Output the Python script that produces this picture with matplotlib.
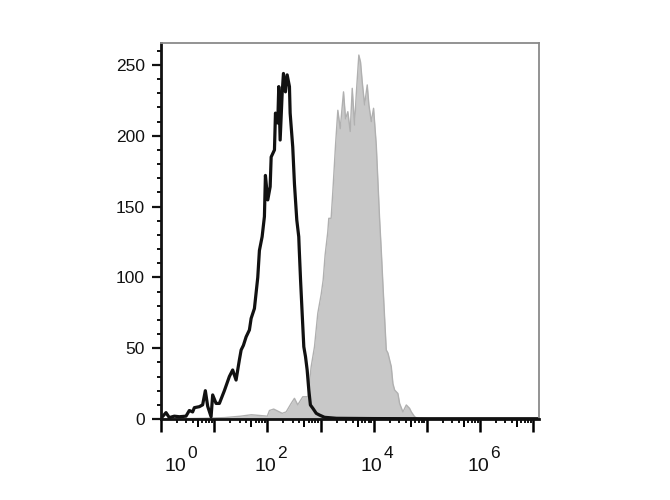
import numpy as np
import matplotlib
matplotlib.use("Agg")
import matplotlib.pyplot as plt

plt.rcParams["font.family"] = ["Liberation Sans", "DejaVu Sans"]

# x in decades (log10 of fluorescence), y = cell count
ctrl_x = [0.00, 0.094, 0.156, 0.25, 0.345, 0.47, 0.533, 0.595, 0.627, 0.721,
          0.783, 0.834, 0.878, 0.942, 0.972, 1.036, 1.098, 1.192, 1.286, 1.348,
          1.412, 1.474, 1.507, 1.55, 1.601, 1.663, 1.695, 1.757, 1.82, 1.851,
          1.902, 1.945, 1.964, 2.008, 2.053, 2.072, 2.134, 2.153, 2.196, 2.215,
          2.241, 2.279, 2.303, 2.341, 2.373, 2.416, 2.429, 2.478, 2.51, 2.554,
          2.591, 2.60, 2.625, 2.655, 2.686, 2.718, 2.749, 2.78, 2.81, 2.857,
          2.92, 2.98, 3.075, 3.3, 4.0, 5.0, 6.0, 7.11]
ctrl_y = [0.5, 4.5, 1.0, 2.0, 1.6, 2.0, 6.0, 5.0, 8.0, 8.7,
          10.0, 20.0, 9.0, 1.6, 17.0, 11.0, 11.0, 20.0, 30.0, 34.6,
          27.5, 41.7, 48.7, 52.0, 58.0, 62.9, 71.0, 78.0, 100.0, 119.0,
          128.7, 142.9, 172.0, 154.7, 164.0, 185.0, 190.0, 216.0, 209.0, 234.7,
          197.0, 230.0, 244.0, 231.0, 243.0, 234.7, 216.0, 192.0, 166.0, 140.5,
          128.7, 120.0, 98.0, 74.6, 51.0, 44.0, 34.6, 20.5, 9.9, 7.5,
          4.0, 2.8, 1.2, 0.5, 0.3, 0.2, 0.2, 0.2]

stain_x = [0.0, 0.8, 1.2, 1.5, 1.7, 2.0, 2.04, 2.12, 2.28, 2.354,
           2.448, 2.51, 2.572, 2.667, 2.761, 2.825, 2.887, 2.949, 3.013, 3.05,
           3.087, 3.137, 3.156, 3.2, 3.232, 3.283, 3.326, 3.371, 3.433, 3.471,
           3.514, 3.559, 3.597, 3.64, 3.672, 3.721, 3.753, 3.785, 3.829, 3.879,
           3.91, 3.955, 3.998, 4.049, 4.111, 4.143, 4.173, 4.205, 4.237, 4.268,
           4.331, 4.362, 4.394, 4.456, 4.488, 4.55, 4.614, 4.676, 4.708, 4.77,
           4.832, 5.5, 7.11]
stain_y = [0.0, 0.5, 1.0, 2.0, 3.0, 2.0, 6.0, 7.0, 4.0, 5.0,
           11.0, 14.6, 10.0, 15.7, 15.7, 37.0, 51.0, 74.6, 88.0, 98.0,
           115.8, 132.0, 141.7, 141.7, 160.5, 193.5, 218.0, 205.0, 231.0, 212.0,
           217.0, 203.0, 233.5, 207.6, 228.8, 257.0, 252.0, 238.0, 221.8, 235.9,
           221.8, 210.0, 219.4, 193.5, 141.7, 119.0, 95.8, 72.0, 48.7, 46.6,
           37.0, 25.0, 20.5, 18.0, 11.0, 5.0, 9.9, 7.5, 5.0, 1.6,
           0.3, 0.0, 0.0]

x_exponents = ["0", "2", "4", "6"]
x_label_pos = [0.476, 2.171, 4.168, 6.183]  # right edge of the "10"

fig = plt.figure(figsize=(6.7, 5.0), dpi=100)
ax = fig.add_axes([0.2403, 0.162, 0.5642, 0.752])

ax.fill_between(stain_x, stain_y, 0, color="#c8c8c8", linewidth=0)
ax.plot(stain_x, stain_y, color="#b0b0b0", lw=1.0)
ax.plot(ctrl_x, ctrl_y, color="#111111", lw=2.3)

ax.set_xlim(0, 7.11)
ax.set_ylim(0, 265.5)

# y axis
ax.set_yticks(np.arange(0, 251, 50))
ax.set_yticks(np.arange(0, 261, 10), minor=True)
ax.tick_params(axis="y", which="major", length=6.5, width=1.6, labelsize=12.5,
               pad=5, colors="#111111")
ax.tick_params(axis="y", which="minor", length=3, width=1.3)

# x axis: decades, with log minor ticks
ax.set_xticks(np.arange(0, 8))
minor = [d + np.log10(k) for d in range(7) for k in (2, 3, 4, 6, 7, 8, 9)]
ax.set_xticks(minor, minor=True)
ax.set_xticklabels([])
ax.tick_params(axis="x", which="major", length=9.5, width=1.8)
ax.tick_params(axis="x", which="minor", length=3, width=1.3)
sec = ax.secondary_xaxis("bottom")
sec.set_xticks([d + np.log10(5) for d in range(7)])
sec.set_xticklabels([])
sec.tick_params(length=6, width=1.4)
sec.spines["bottom"].set_visible(False)

xt = ax.get_xaxis_transform()
for ex, pos in zip(x_exponents, x_label_pos):
    ax.annotate("10", (pos, -0.138), xycoords=xt, ha="right", va="baseline",
                fontsize=14, color="#111111", annotation_clip=False)
    ax.annotate(ex, (pos, -0.138), xycoords=xt, xytext=(0.5, 9),
                textcoords="offset points", ha="left", va="baseline",
                fontsize=12.5, color="#111111", annotation_clip=False)

for s in ("left", "bottom"):
    ax.spines[s].set_linewidth(2.0)
    ax.spines[s].set_color("#111111")
for s in ("top", "right"):
    ax.spines[s].set_linewidth(1.3)
    ax.spines[s].set_color("#8a8a8a")

fig.savefig("out.png", dpi=100)
